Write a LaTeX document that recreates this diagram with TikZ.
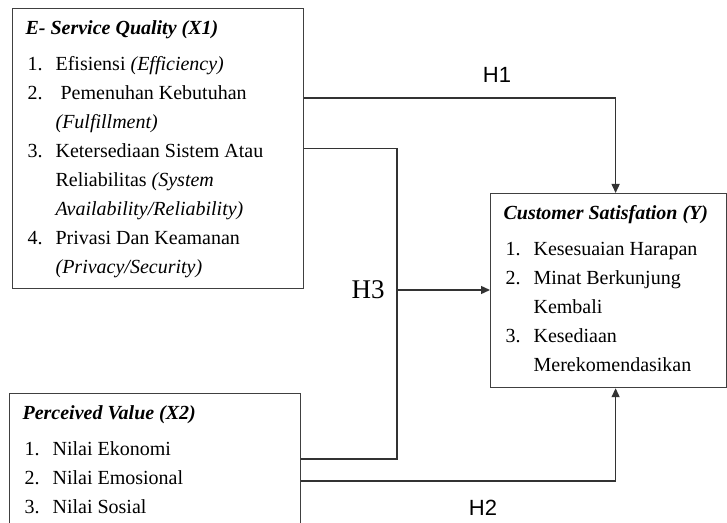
\documentclass[tikz,border=0pt]{standalone}
\usepackage{fontspec}
\setmainfont{Liberation Serif}
\newfontfamily\hfont{Liberation Sans}
\usepackage{tikz}
\usetikzlibrary{arrows.meta,positioning}
\tikzstyle{varbox} = [draw=black!75, line width=0.6pt, rectangle,
    inner sep=0pt, anchor=north west]
\tikzstyle{link} = [draw=black!80, line width=0.7pt]
\tikzstyle{arr} = [link, -{Triangle[length=4.5pt,width=4pt]}]
\tikzstyle{hsans} = [font=\hfont\fontsize{11}{13}\selectfont, inner sep=0pt]
\tikzstyle{hserif} = [font=\fontsize{13.5}{16}\selectfont, inner sep=0pt]
\newcommand{\boxbody}[3]{%
    \begin{minipage}[t][#2][t]{#1}\fontsize{10}{14.5}\selectfont
        \vspace*{3pt}%
        \begin{tabular}{@{\hspace{7.5pt}}p{14pt}@{}l@{}}#3\end{tabular}
    \end{minipage}}
\newcommand{\boxhead}[1]{\multicolumn{2}{@{\hspace{6.5pt}}l@{}}{\textbf{\textit{#1}}}\\[3.5pt]}

\begin{document}
\begin{tikzpicture}[x=0.5pt,y=-0.5pt]
    \clip (0,0) rectangle (727,523);
    \node [varbox] (x1) at (12,8) {\boxbody{145.5pt}{140pt}{
        \boxhead{E- Service Quality (X1)}
        1. & Efisiensi \textit{(Efficiency)}\\
        2. & \ Pemenuhan Kebutuhan\\
           & \textit{(Fulfillment)}\\
        3. & Ketersediaan Sistem Atau\\
           & Reliabilitas \textit{(System}\\
           & \textit{Availability/Reliability)}\\
        4. & Privasi Dan Keamanan\\
           & \textit{(Privacy/Security)}\\
    }};
    \node [varbox] (x2) at (9,393) {\boxbody{145.5pt}{70pt}{
        \boxhead{Perceived Value (X2)}
        1. & Nilai Ekonomi\\
        2. & Nilai Emosional\\
        3. & Nilai Sosial\\
    }};
    \node [varbox] (y) at (490,193) {\boxbody{118pt}{97pt}{
        \boxhead{Customer Satisfation (Y)}
        1. & Kesesuaian Harapan\\
        2. & Minat Berkunjung\\
           & Kembali\\
        3. & Kesediaan\\
           & Merekomendasikan\\
    }};
    % hypothesis paths
    \coordinate (join) at (397,290);
    \draw [arr] ([yshift=25.25pt]x1.east) -| ([xshift=3.5pt]y.north);
    \draw [link] (x1.east) -| (join) |- ([yshift=-33pt]x2.north east);
    \draw [arr] (join) -- (join -| y.west);
    \draw [arr] ([yshift=-44pt]x2.north east) -| ([xshift=3.5pt]y.south);
    \node [hsans] (h1) at (497,75) {H1};
    \node [hserif, left=6pt of join] (h3) {H3};
    \node [hsans] (h2) at (483,508) {H2};
\end{tikzpicture}
\end{document}
